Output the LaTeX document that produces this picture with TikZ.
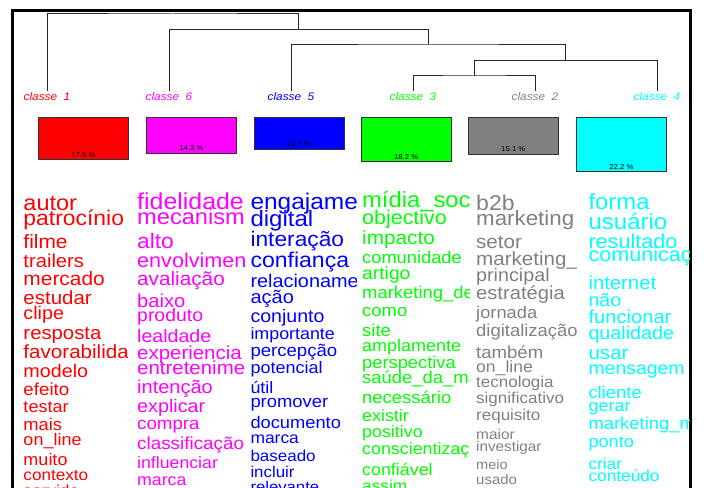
\documentclass[tikz,border=0pt]{standalone}
\usepackage{fontspec}
\setmainfont{Liberation Sans}[FakeStretch=1.08]

\definecolor{clred}{RGB}{255,0,0}
\definecolor{clmag}{RGB}{255,0,255}
\definecolor{clblu}{RGB}{0,0,255}
\definecolor{clgrn}{RGB}{0,255,0}
\definecolor{clgry}{RGB}{128,128,128}
\definecolor{clcyn}{RGB}{0,255,255}

\tikzset{every picture/.style={line width=0.75pt}}

\begin{document}
\begin{tikzpicture}[x=0.75pt,y=0.75pt,yscale=-1,xscale=1,
  wrd/.style={anchor=base west,inner sep=0pt,font=\fontsize{#1}{#1}\selectfont},
  cls/.style={anchor=base,inner sep=0.75pt,font=\fontsize{8.2}{8.2}\selectfont\itshape},
  pct/.style={anchor=base,inner sep=0pt,font=\fontsize{5.4}{5.4}\selectfont},
  bar/.style={draw={rgb,255:red,40;green,40;blue,40}},
  cbox/.style={draw={rgb,255:red,50;green,50;blue,50},fill=#1}]
	\useasboundingbox (0,0) rectangle (704,488);
	
	%Shape: Frame
	\draw [line width=1.6pt] (12.5,10.5) rectangle (690.5,530) ;
	
	% Class labels
	\node [cls,clred] (cl1) at (47,100.7) {classe~~1};
	\node [cls,clmag] (cl6) at (169,100.7) {classe~~6};
	\node [cls,clblu] (cl5) at (291,100.7) {classe~~5};
	\node [cls,clgrn] (cl3) at (413,100.7) {classe~~3};
	\node [cls,clgry] (cl2) at (535,100.7) {classe~~2};
	\node [cls,clcyn] (cl4) at (657,100.7) {classe~~4};
	
	% Dendrogram joins
	\coordinate (j1) at (474,76);
	\coordinate (j2) at (565.5,60.5);
	\coordinate (j3) at (428.2,45);
	\coordinate (j4) at (298.6,29.5);
	\coordinate (j5) at (172.8,14);
	\draw [bar] (cl3.north) |- (j1) -| (cl2.north) ;
	\draw [bar] (j1) |- (j2) -| (cl4.north) ;
	\draw [bar] (cl5.north) |- (j3) -| (j2) ;
	\draw [bar] (cl6.north) |- (j4) -| (j3) ;
	\draw [bar] (cl1.north) |- (j5) -| (j4) ;
	
	%Shape: Rectangle (class sizes)
	\draw [cbox=clred] (38.5,118) rectangle (128.5,160) ;
	\draw [cbox=clmag] (146.5,118) rectangle (236.5,153.7) ;
	\draw [cbox=clblu] (254,118) rectangle (344,149.7) ;
	\draw [cbox=clgrn] (361.5,118) rectangle (451,162) ;
	\draw [cbox=clgry] (468.5,118) rectangle (558,154.7) ;
	\draw [cbox=clcyn] (576.5,118) rectangle (666.5,172) ;
	% Text Node
	\node [pct] (pc1) at (83.5,157.3) {17.5 \%};
	\node [pct] (pc6) at (191.5,151) {14.3 \%};
	\node [pct] (pc5) at (299,147) {12.7 \%};
	\node [pct] (pc3) at (406.2,159.3) {18.2 \%};
	\node [pct] (pc2) at (513.3,152) {15.1 \%};
	\node [pct] (pc4) at (621.5,169.3) {22.2 \%};
	
	% Words, classe 1
	\begin{scope}[clred]
	\clip (15,180) rectangle (127,500);
	\node [wrd=16.3] (r1) at (23,210.7) {autor};
	\node [wrd=15.9] (r2) at (23,225.7) {patrocínio};
	\node [wrd=14.5] (r3) at (23,248.3) {filme};
	\node [wrd=14] (r4) at (23,267.3) {trailers};
	\node [wrd=14.5] (r5) at (23,286) {mercado};
	\node [wrd=14.2] (r6) at (23,305) {estudar};
	\node [wrd=13.7] (r7) at (23,320) {clipe};
	\node [wrd=14.1] (r8) at (23,339.3) {resposta};
	\node [wrd=14.3] (r9) at (23,358.3) {favorabilidade};
	\node [wrd=13.7] (r10) at (23,377.3) {modelo};
	\node [wrd=13] (r11) at (23,396) {efeito};
	\node [wrd=12.5] (r12) at (23,412.7) {testar};
	\node [wrd=12.7] (r13) at (23,430.7) {mais};
	\node [wrd=12.5] (r14) at (23,445.7) {on\_line};
	\node [wrd=12.5] (r15) at (23,465) {muito};
	\node [wrd=11.9] (r16) at (23,480) {contexto};
	\node [wrd=12] (r17) at (23,497) {servido};
	\end{scope}
	
	% Words, classe 6
	\begin{scope}[clmag]
	\clip (132,180) rectangle (244,500);
	\node [wrd=17.3] (m1) at (136.7,209.3) {fidelidade};
	\node [wrd=16.4] (m2) at (136.7,225) {mecanismo};
	\node [wrd=15.8] (m3) at (136.7,248.3) {alto};
	\node [wrd=15] (m4) at (136.7,267.3) {envolvimento};
	\node [wrd=14.4] (m5) at (136.7,286) {avaliação};
	\node [wrd=14] (m6) at (136.7,307.7) {baixo};
	\node [wrd=13.5] (m7) at (136.7,321.7) {produto};
	\node [wrd=13.6] (m8) at (136.7,342.7) {lealdade};
	\node [wrd=14.2] (m9) at (136.7,360) {experiencia};
	\node [wrd=14.2] (m10) at (136.7,375) {entretenimento};
	\node [wrd=13.9] (m11) at (136.7,393.3) {intenção};
	\node [wrd=13.7] (m12) at (136.7,412.7) {explicar};
	\node [wrd=13] (m13) at (136.7,430) {compra};
	\node [wrd=13.1] (m14) at (136.7,449.3) {classificação};
	\node [wrd=12.3] (m15) at (136.7,468.3) {influenciar};
	\node [wrd=12.3] (m16) at (136.7,486) {marca};
	\end{scope}
	
	% Words, classe 5
	\begin{scope}[clblu]
	\clip (246,180) rectangle (356,500);
	\node [wrd=17] (b1) at (250,209.3) {engajamento};
	\node [wrd=16.7] (b2) at (250,226.7) {digital};
	\node [wrd=15.8] (b3) at (250,246.7) {interação};
	\node [wrd=16] (b4) at (250,267.3) {confiança};
	\node [wrd=13.8] (b5) at (250,287.3) {relacionamento};
	\node [wrd=13.9] (b6) at (250,303.3) {ação};
	\node [wrd=13.6] (b7) at (250,322.7) {conjunto};
	\node [wrd=12.4] (b8) at (250,339.3) {importante};
	\node [wrd=12.9] (b9) at (250,356.7) {percepção};
	\node [wrd=12.5] (b10) at (250,374) {potencial};
	\node [wrd=12.4] (b11) at (250,393.3) {útil};
	\node [wrd=12.8] (b12) at (250,407.3) {promover};
	\node [wrd=12.7] (b13) at (250,428.3) {documento};
	\node [wrd=12.1] (b14) at (250,443.3) {marca};
	\node [wrd=11.8] (b15) at (250,461) {baseado};
	\node [wrd=11.7] (b16) at (250,477.7) {incluir};
	\node [wrd=11.6] (b17) at (250,493) {relevante};
	\end{scope}
	
	% Words, classe 3
	\begin{scope}[clgrn]
	\clip (358,180) rectangle (469,500);
	\node [wrd=16.5] (g1) at (361.7,207.3) {mídia\_social};
	\node [wrd=14.9] (g2) at (361.7,225) {objectivo};
	\node [wrd=14.4] (g3) at (361.7,245) {impacto};
	\node [wrd=12.7] (g4) at (361.7,264) {comunidade};
	\node [wrd=13.4] (g5) at (361.7,280) {artigo};
	\node [wrd=12.8] (g6) at (361.7,298.3) {marketing\_de\_conteúdo};
	\node [wrd=12.8] (g7) at (361.7,316.7) {como};
	\node [wrd=12.8] (g8) at (361.7,336.7) {site};
	\node [wrd=12.5] (g9) at (361.7,351.7) {amplamente};
	\node [wrd=12.7] (g10) at (361.7,368.3) {perspectiva};
	\node [wrd=12.8] (g11) at (361.7,384) {saúde\_da\_marca};
	\node [wrd=12.8] (g12) at (361.7,404) {necessário};
	\node [wrd=12.4] (g13) at (361.7,421.7) {existir};
	\node [wrd=12.4] (g14) at (361.7,437.3) {positivo};
	\node [wrd=12.4] (g15) at (361.7,455) {conscientização};
	\node [wrd=12.4] (g16) at (361.7,475) {confiável};
	\node [wrd=12] (g17) at (361.7,491.7) {assim};
	\end{scope}
	
	% Words, classe 2
	\begin{scope}[clgry]
	\clip (472,180) rectangle (576,500);
	\node [wrd=16] (y1) at (475.7,210.7) {b2b};
	\node [wrd=15.5] (y2) at (475.7,226) {marketing};
	\node [wrd=14.3] (y3) at (475.7,248.3) {setor};
	\node [wrd=14.3] (y4) at (475.7,266) {marketing\_conteúdo};
	\node [wrd=13.7] (y5) at (475.7,281.7) {principal};
	\node [wrd=14] (y6) at (475.7,300) {estratégia};
	\node [wrd=12.7] (y7) at (475.7,318.3) {jornada};
	\node [wrd=12.8] (y8) at (475.7,336.7) {digitalização};
	\node [wrd=12.9] (y9) at (475.7,358.3) {também};
	\node [wrd=12.2] (y10) at (475.7,372.7) {on\_line};
	\node [wrd=11.8] (y11) at (475.7,387.3) {tecnologia};
	\node [wrd=11.8] (y12) at (475.7,404) {significativo};
	\node [wrd=11.8] (y13) at (475.7,420.7) {requisito};
	\node [wrd=10.7] (y14) at (475.7,439.3) {maior};
	\node [wrd=10.6] (y15) at (475.7,451.7) {investigar};
	\node [wrd=10.1] (y16) at (475.7,469.3) {meio};
	\node [wrd=10.4] (y17) at (475.7,484) {usado};
	\end{scope}
	
	% Words, classe 4
	\begin{scope}[clcyn]
	\clip (584,180) rectangle (689.5,500);
	\node [wrd=16.6] (c1) at (588,209.3) {forma};
	\node [wrd=16.7] (c2) at (588,230) {usuário};
	\node [wrd=15] (c3) at (588,248.3) {resultado};
	\node [wrd=15] (c4) at (588,261.7) {comunicação};
	\node [wrd=14.1] (c5) at (588,290) {internet};
	\node [wrd=13.6] (c6) at (588,306.7) {não};
	\node [wrd=14] (c7) at (588,324) {funcionar};
	\node [wrd=13.7] (c8) at (588,339.3) {qualidade};
	\node [wrd=14.3] (c9) at (588,360) {usar};
	\node [wrd=13.5] (c10) at (588,375) {mensagem};
	\node [wrd=12.8] (c11) at (588,398.3) {cliente};
	\node [wrd=12.5] (c12) at (588,411.7) {gerar};
	\node [wrd=12.8] (c13) at (588,430) {marketing\_mobile};
	\node [wrd=12.6] (c14) at (588,447.3) {ponto};
	\node [wrd=12] (c15) at (588,469.3) {criar};
	\node [wrd=12] (c16) at (588,481.7) {conteúdo};
	\end{scope}
	
\end{tikzpicture}
\end{document}
